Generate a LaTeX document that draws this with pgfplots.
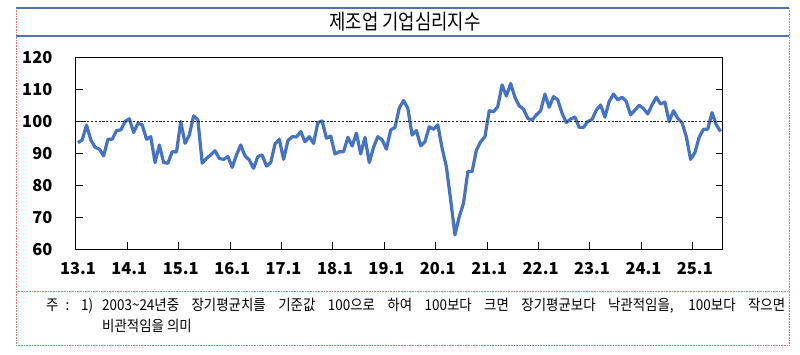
\documentclass[border=0pt]{standalone}
\usepackage{fontspec}
\usepackage{pgfplots}
\usepackage{pgfplotstable}
\pgfplotsset{compat=1.18}
\setmainfont{Noto Sans CJK KR}
\newfontfamily\titlefont[FakeStretch=0.85]{Noto Sans CJK KR}
\newfontfamily\notefont[FakeStretch=0.9]{Noto Sans CJK KR}
\definecolor{lineblue}{RGB}{68,114,196}
\definecolor{titleline}{RGB}{84,116,168}
\definecolor{cellred}{RGB}{230,120,120}

\pgfplotstableread{
k v
0 93.3
1 94.2
2 98.8
3 94.2
4 91.9
5 91.3
6 89.2
7 94.4
8 94.4
9 97.1
10 97.3
11 99.9
12 100.8
13 96.5
14 99.4
15 98.9
16 94.4
17 95.2
18 87.1
19 92.6
20 87.1
21 86.9
22 90.5
23 90.4
24 99.9
25 93.1
26 95.7
27 101.7
28 100.4
29 86.9
30 88.4
31 89.5
32 90.8
33 88.4
34 88.1
35 89.0
36 85.6
37 89.5
38 92.6
39 89.2
40 87.9
41 85.3
42 89.0
43 89.5
44 86.0
45 87.1
46 92.9
47 94.4
48 88.1
49 93.9
50 95.2
51 95.1
52 96.8
53 93.6
54 95.2
55 93.1
56 99.6
57 100.1
58 94.7
59 95.4
60 89.8
61 90.5
62 90.5
63 95.0
64 92.3
65 96.3
66 89.8
67 95.0
68 87.1
69 91.9
70 95.2
71 94.2
72 91.3
73 97.3
74 98.1
75 104.1
76 106.5
77 104.1
78 95.7
79 97.1
80 92.3
81 93.6
82 98.3
83 97.5
84 98.9
85 91.6
86 85.8
87 75.4
88 64.5
89 70.2
90 74.4
91 84.3
92 84.3
93 91.0
94 93.6
95 95.2
96 103.3
97 103.0
98 104.6
99 111.4
100 107.9
101 111.8
102 107.5
103 104.8
104 103.8
105 100.9
106 100.4
107 102.0
108 103.3
109 108.5
110 104.4
111 107.7
112 106.7
113 102.5
114 99.6
115 100.7
116 101.3
117 98.1
118 98.1
119 99.9
120 100.6
121 103.5
122 105.1
123 101.3
124 106.2
125 108.5
126 106.7
127 107.5
128 106.2
129 102.0
130 103.5
131 105.0
132 104.0
133 102.3
134 105.1
135 107.5
136 105.4
137 106.0
138 99.9
139 103.3
140 100.9
141 99.6
142 95.2
143 88.1
144 90.2
145 95.0
146 97.5
147 97.5
148 102.7
149 98.9
150 96.8
}\cbsi

\begin{document}
\begin{tikzpicture}
\useasboundingbox (0bp,0bp) rectangle (800bp,355bp);
% cell borders
\draw[cellred, densely dotted, line width=0.6bp] (16bp,347bp) -- (16bp,10bp);
\draw[cellred, densely dotted, line width=0.6bp] (789bp,347bp) -- (789bp,10bp);
\draw[cellred, densely dotted, line width=0.6bp] (16bp,64bp) -- (789bp,64bp);
\draw[cellred, densely dotted, line width=0.6bp] (16bp,10bp) -- (789bp,10bp);
% title
\draw[titleline, line width=1.3bp] (16bp,347bp) -- (789bp,347bp);
\draw[titleline, line width=1.3bp] (16bp,319bp) -- (789bp,319bp);
\node[font=\titlefont\fontsize{21}{25}\selectfont, inner sep=0pt] at (405bp,333bp) {제조업 기업심리지수};

\begin{axis}[
  at={(75.8bp,105.7bp)}, anchor=south west,
  scale only axis, width=646.9bp, height=192bp,
  xmin=0, xmax=151, ymin=60, ymax=120,
  axis line style={black, line width=0.9bp},
  tick align=inside,
  xtick={0.5,12.5,...,144.5},
  xticklabels={13.1,14.1,15.1,16.1,17.1,18.1,19.1,20.1,21.1,22.1,23.1,24.1,25.1},
  xtick pos=bottom,
  major x tick style={draw=none},
  minor xtick={0,12,...,144},
  minor x tick style={black, line width=0.8bp},
  minor tick length=7bp,
  ytick={60,70,...,120},
  ytick pos=both,
  yticklabel pos=left,
  major tick length=7bp,
  y tick style={black, line width=0.8bp},
  ticklabel style={font=\bfseries\fontsize{16.5}{19}\selectfont},
  xticklabel style={yshift=-10bp},
  yticklabel style={xshift=-20bp},
  /pgf/number format/assume math mode=true,
  clip=false,
]
\addplot[lineblue, line width=3.2bp, line join=round] table[x expr=\thisrow{k}+0.5, y=v] {\cbsi};
\addplot[black!85, line width=0.9bp, dash pattern=on 2.2bp off 1.6bp] coordinates {(0,100) (151,100)};
\end{axis}
\begin{axis}[
  at={(75.8bp,105.7bp)}, anchor=south west,
  scale only axis, width=646.9bp, height=192bp,
  xmin=0, xmax=151, ymin=60, ymax=120,
  axis lines=none,
  xtick=\empty,
  ytick={60,70,...,120},
  yticklabel pos=right,
  ytick pos=right,
  major tick length=0pt,
  ticklabel style={font=\bfseries\fontsize{16.5}{19}\selectfont},
  yticklabel style={xshift=12bp},
  /pgf/number format/assume math mode=true,
]
\end{axis}
% footnote
\node[anchor=base west, inner sep=0pt, font=\notefont\fontsize{15}{18}\selectfont] at (46bp,44bp) {\makebox[47bp][s]{주 : 1)}};
\node[anchor=base west, inner sep=0pt, font=\notefont\fontsize{15}{18}\selectfont] at (102bp,44bp)
  {\makebox[683bp][s]{2003\textasciitilde24년중 장기평균치를 기준값 100으로 하여 100보다 크면 장기평균보다 낙관적임을, 100보다 작으면}};
\node[anchor=base west, inner sep=0pt, font=\notefont\fontsize{15}{18}\selectfont] at (102bp,24bp) {비관적임을 의미};
\end{tikzpicture}
\end{document}
